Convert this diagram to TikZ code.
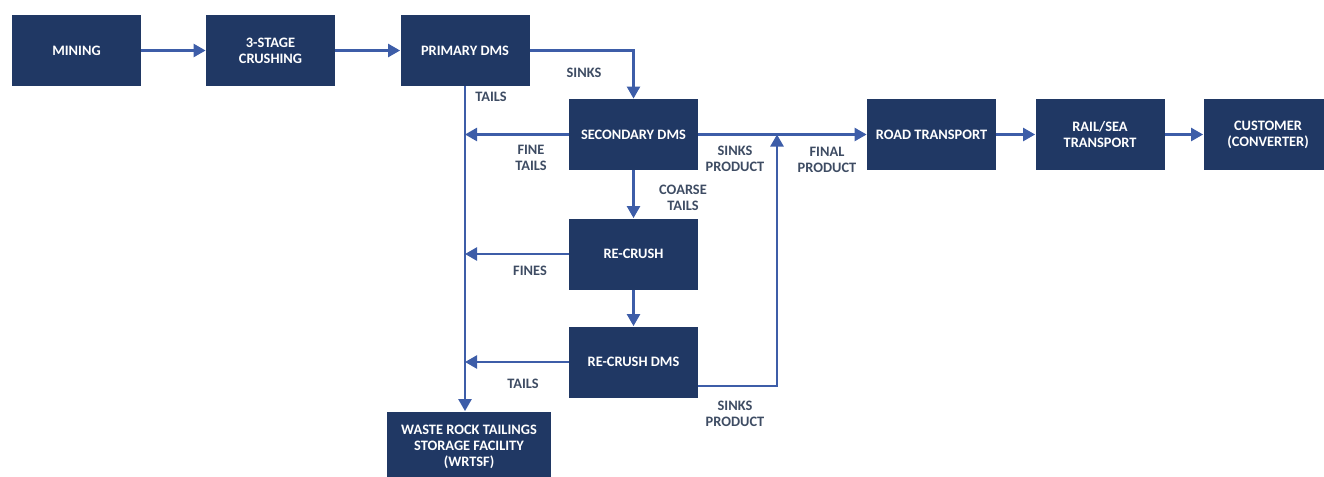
\documentclass[tikz,border=0pt]{standalone}
\usepackage{fontspec}
\setmainfont{Carlito}
\usetikzlibrary{arrows.meta}
\definecolor{boxnavy}{HTML}{203864}
\definecolor{flowblue}{HTML}{3D5DA8}
\definecolor{labgray}{HTML}{3E4C63}

\begin{document}
\begin{tikzpicture}[x=0.5pt,y=-0.5pt,
    stage/.style={fill=boxnavy, text=white, minimum width=64.5pt, minimum height=35.5pt, inner sep=1pt, align=center, font=\bfseries\fontsize{7.2}{8}\selectfont},
    flow/.style={draw=flowblue, line width=1.2pt, -{Triangle[length=6pt,width=6.5pt]}},
    tag/.style={text=labgray, align=center, font=\bfseries\fontsize{7.2}{8}\selectfont}]
      \useasboundingbox (0,0) rectangle (1324,477);
      \node[stage] (mining)     at (76.5,50.5)  {MINING};
      \node[stage] (crushing)   at (270.5,50.5) {3-STAGE\\CRUSHING};
      \node[stage] (primary)    at (465,50.5)   {PRIMARY DMS};
      \node[stage] (secondary)  at (633.5,134.5) {SECONDARY DMS};
      \node[stage] (recrush)    at (633.5,254)  {RE-CRUSH};
      \node[stage] (recrushdms) at (633.5,362)  {RE-CRUSH DMS};
      \node[stage, minimum width=82pt] (wrtsf) at (469,447) {WASTE ROCK TAILINGS\\STORAGE FACILITY\\(WRTSF)};
      \node[stage] (road)       at (931.5,134.5) {ROAD TRANSPORT};
      \node[stage] (rail)       at (1100,134.5) {RAIL/SEA\\TRANSPORT};
      \node[stage] (customer)   at (1268,134.5) {CUSTOMER\\(CONVERTER)};
      \coordinate (join) at (777,134.5);
      \foreach \a/\b in {mining/crushing, crushing/primary, road/rail, rail/customer} {
        \draw[flow] (\a) -- (\b);
      }
      \draw[flow] (primary.east) -| (secondary.north);
      \draw[flow] (primary.south) -- (primary.south |- wrtsf.north);
      \foreach \n in {secondary, recrush, recrushdms} {
        \draw[flow] (\n.west) -- (\n.west -| primary.south);
      }
      \draw[flow] (secondary.south) -- (recrush.north);
      \draw[flow] (recrush.south) -- (recrushdms.north);
      \draw[flow] (secondary.east) -- (road.west);
      \draw[flow] ([yshift=-12pt]recrushdms.east) -| (join);
      \node[tag] (tsinks)   at (584,73)    {SINKS};
      \node[tag] (ttails)   at (491,97)    {TAILS};
      \node[tag] (tfine)    at (531,158)   {FINE\\TAILS};
      \node[tag] (tsinkp)   at (735,159)   {SINKS\\PRODUCT};
      \node[tag] (tfinal)   at (827,160)   {FINAL\\PRODUCT};
      \node[tag] (tcoarse)  at (683,198)   {COARSE\\TAILS};
      \node[tag] (tfines)   at (530,271)   {FINES};
      \node[tag] (ttails2)  at (523,384)   {TAILS};
      \node[tag] (tsinkp2)  at (735,414)   {SINKS\\PRODUCT};
    \end{tikzpicture}
\end{document}
